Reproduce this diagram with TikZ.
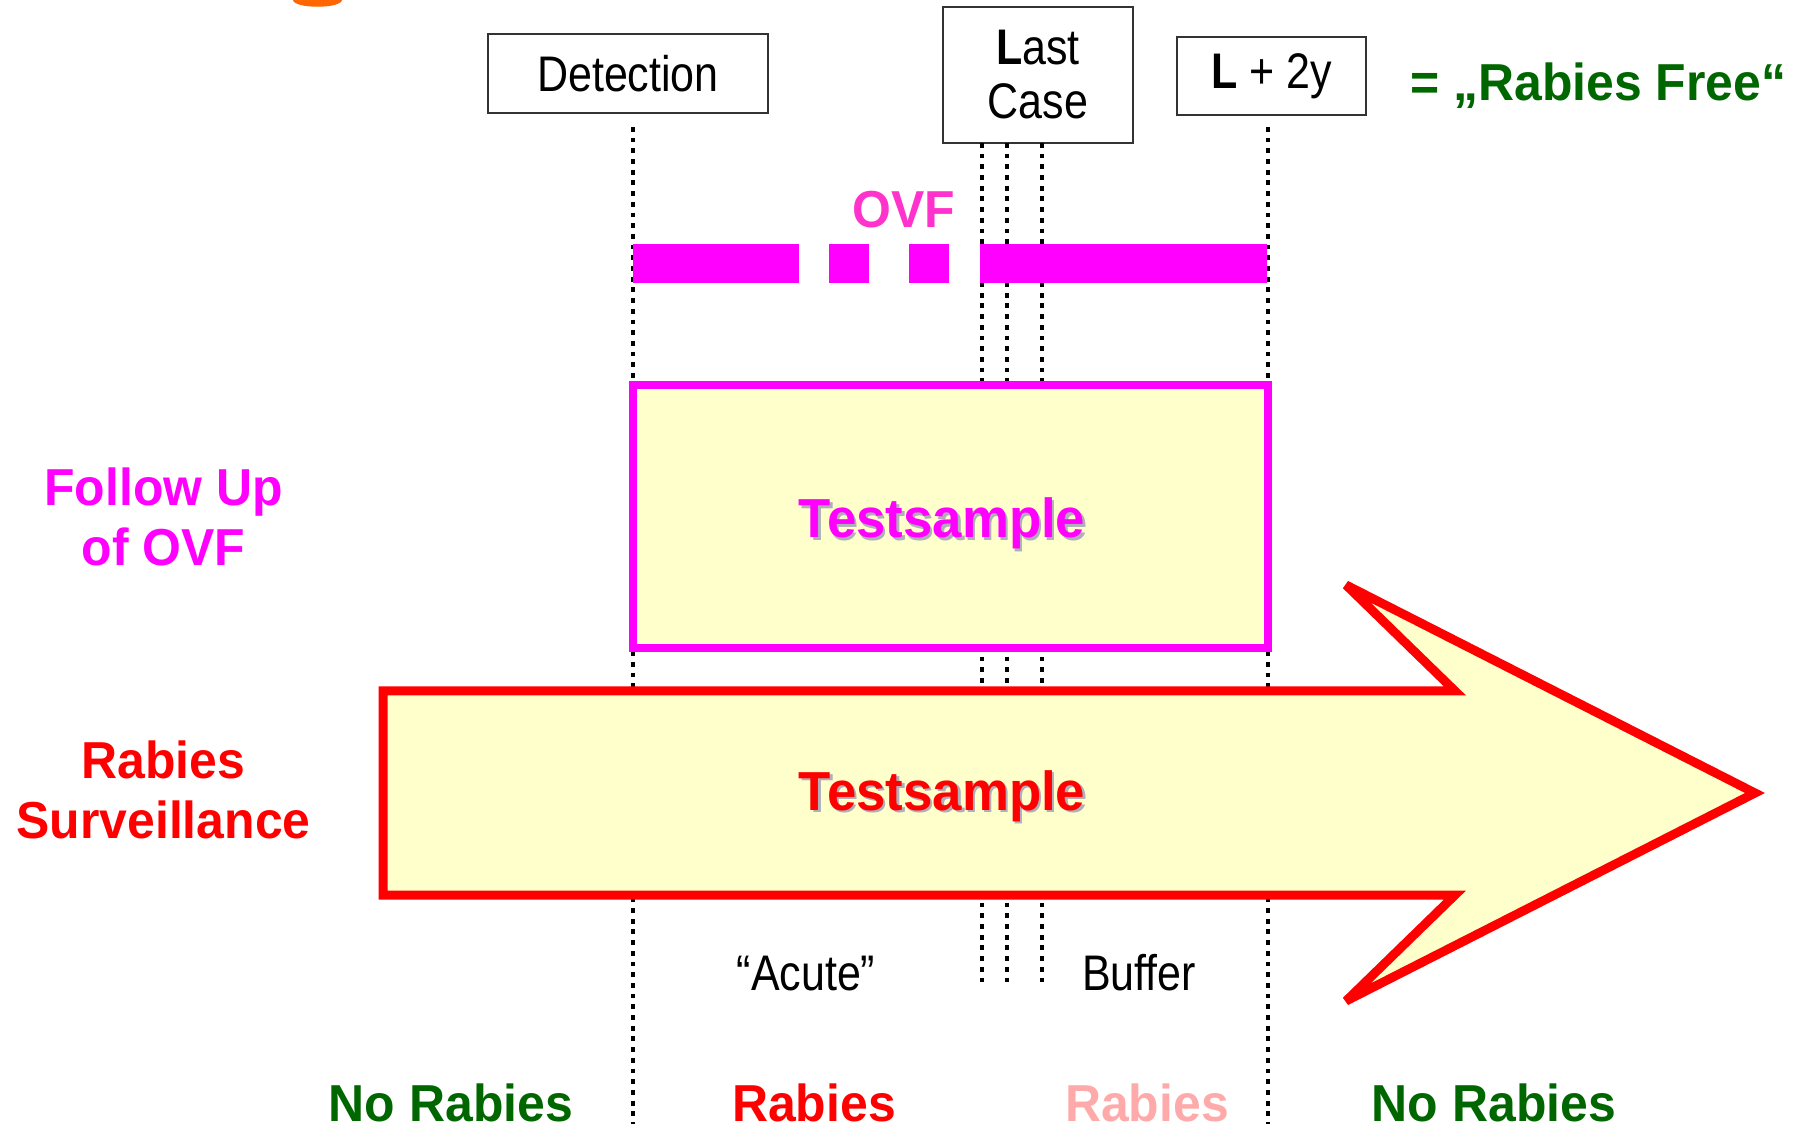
\documentclass[tikz,border=0pt]{standalone}
\usepackage{fontspec}
\setmainfont{Liberation Sans}
\newfontfamily\boxfont{Liberation Sans}[FakeStretch=0.86]
\newfontfamily\labfont{Liberation Sans}[FakeStretch=0.96]
\usepackage{xcolor}
\usepackage{tikz}
\definecolor{ovfmag}{RGB}{255,0,255}
\definecolor{ovfpink}{RGB}{255,51,204}
\definecolor{paleyel}{RGB}{255,255,204}
\definecolor{rgreen}{RGB}{0,102,0}
\definecolor{rred}{RGB}{255,0,0}
\definecolor{rpale}{RGB}{255,170,170}
\definecolor{logoorg}{RGB}{255,102,0}
\definecolor{shad}{RGB}{175,175,185}
\tikzset{
  tbox/.style={draw=black!80,line width=0.9pt,inner sep=0pt,font=\boxfont\fontsize{25}{27}\selectfont},
  txt/.style={inner sep=0pt,font=\boxfont\fontsize{25}{27}\selectfont},
  lab/.style={inner sep=0pt,font=\labfont\bfseries\fontsize{26}{30}\selectfont},
  big/.style={inner sep=0pt,font=\labfont\bfseries\fontsize{27.5}{30}\selectfont},
  dotl/.style={line width=2.4pt,dash pattern=on 2.4pt off 2.95pt},
  sbox/.style={draw=ovfmag,line width=4pt,fill=paleyel,inner sep=0pt},
  sarrow/.style={draw=rred,line width=4.5pt,fill=paleyel,line join=miter,miter limit=3}
}
\newcommand{\shd}[2]{\rlap{\kern1.2pt\raisebox{-1.2pt}{\textcolor{shad}{#2}}}\textcolor{#1}{#2}}

\begin{document}
\begin{tikzpicture}[x=0.5pt,y=-0.5pt]
\useasboundingbox (0,0) rectangle (1805,1133);
\fill[logoorg] (293,0) .. controls (294,9) and (341,9) .. (342,0) -- cycle;

% time points
\node[tbox,minimum width=140pt,minimum height=39.5pt] (det) at (628,73.5) {Detection};
\node[tbox,minimum width=95pt,minimum height=68pt,align=center] (lc) at (1038,75) {{\bfseries L}ast\\Case};
\node[tbox,minimum width=94.5pt,minimum height=39pt] (l2y) at (1271.5,76) {{\bfseries L} + 2y};
\node[lab,anchor=base west,text=rgreen] (free) at (1410,101) {= „Rabies Free“};

% dotted time lines
\coordinate (dtop) at (633,127); \coordinate (dbot) at (633,1124);
\coordinate (ftop) at (1268,127); \coordinate (fbot) at (1268,1124);
\draw[dotl] (dtop) -- (dbot);
\draw[dotl] (ftop) -- (fbot);
\foreach \x [count=\i] in {982,1007,1042} {
  \coordinate (lt\i) at (\x,143); \coordinate (lb\i) at (\x,983);
  \draw[dotl] (lt\i) -- (lb\i);
}

% OVF bar
\node[lab,anchor=base,text=ovfpink] (ovf) at (904,228) {OVF};
\foreach \a/\b in {633/799,829/869,909/949,980/1267}
  \fill[ovfmag] (\a,244) rectangle (\b,283);

% follow up box
\node[sbox,minimum width=317.5pt,minimum height=131.5pt] (fubox) at (950.5,516.5) {};
\node[big,anchor=base] (futxt) at (942,538) {\shd{ovfmag}{Testsample}};

% surveillance arrow
\draw[sarrow] (383,691) -- (1455,691) -- (1346,585) -- (1755,793) -- (1346,1001) -- (1455,895) -- (383,895) -- cycle;
\node[big,anchor=base] (survtxt) at (942,810) {\shd{rred}{Testsample}};

% left labels
\node[lab,align=center,text=ovfmag] (fulab) at (163.5,516.5) {Follow Up\\of OVF};
\node[lab,align=center,text=rred] (survlab) at (163.5,790) {Rabies\\Surveillance};

% phases
\node[txt,anchor=base] (acute) at (806,990) {“Acute”};
\node[txt,anchor=base] (buffer) at (1139,990) {Buffer};
\node[lab,anchor=base,text=rgreen] (nr1) at (451,1121) {No Rabies};
\node[lab,anchor=base,text=rred] (r1) at (814,1121) {Rabies};
\node[lab,anchor=base,text=rpale] (r2) at (1147,1121) {Rabies};
\node[lab,anchor=base,text=rgreen] (nr2) at (1494,1121) {No Rabies};
\end{tikzpicture}
\end{document}
